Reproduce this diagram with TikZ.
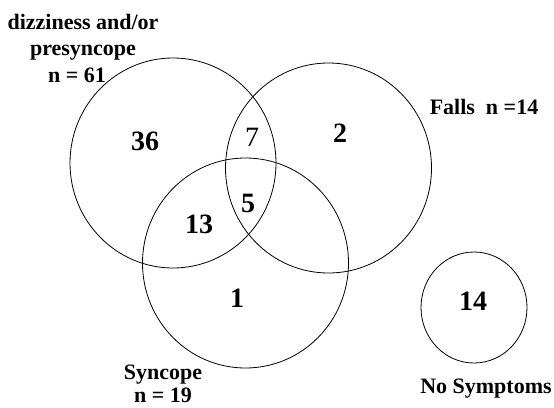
\documentclass[tikz,border=0pt]{standalone}
\usepackage{fontspec}
\setmainfont{Liberation Serif}
\begin{document}
\begin{tikzpicture}[x=1pt,y=-1pt,
  setring/.style={draw=black,line width=0.8pt},
  lbl/.style={font=\fontsize{22}{24}\selectfont\bfseries,inner sep=0pt,anchor=base},
  num/.style={font=\fontsize{28}{30}\selectfont\bfseries,inner sep=0pt,anchor=base},
  numreg/.style={font=\fontsize{28}{30}\selectfont,inner sep=0pt,anchor=base}]
\useasboundingbox (0,0) rectangle (554,407);
\fill[white] (0,0) rectangle (554,407);
\draw[setring] (173,163) ellipse [x radius=103, y radius=105];
\draw[setring] (328.5,168) ellipse [x radius=103, y radius=105];
\draw[setring] (245.5,263) ellipse [x radius=103, y radius=105];
\draw[setring] (474,307.5) ellipse [x radius=53, y radius=55.5];
\node[lbl] (dizz) at (83,29) {dizziness and/or};
\node[lbl] (presy) at (83,55) {presyncope};
\node[lbl] (n61) at (77,82) {n = 61};
\node[lbl] (falls) at (484,114) {Falls~~n =14};
\node[lbl] (sync) at (163,379) {Syncope};
\node[lbl] (n19) at (163,402.5) {n = 19};
\node[lbl] (nosym) at (486,393) {No Symptoms};
\node[num] (a36) at (145,150) {36};
\node[numreg] (a7) at (252,146) {7};
\node[num] (a2) at (340,142) {2};
\node[num] (a5) at (248,212) {5};
\node[num] (a13) at (199,233) {13};
\node[num] (a1) at (237,307) {1};
\node[num] (a14) at (473,310) {14};
\end{tikzpicture}
\end{document}
